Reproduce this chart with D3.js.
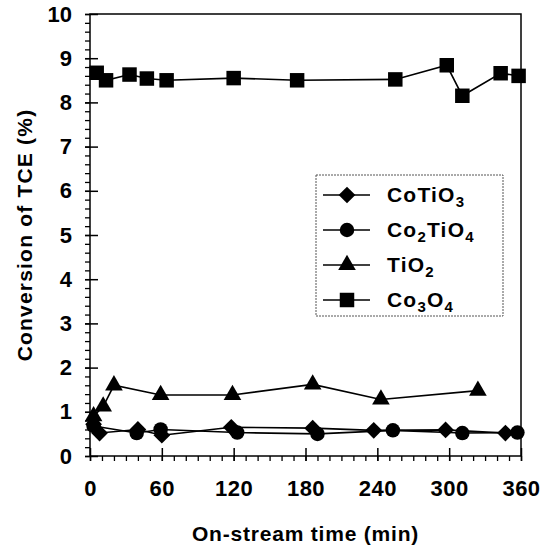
<!DOCTYPE html>
<html><head><meta charset="utf-8">
<script src="https://cdn.jsdelivr.net/npm/d3@7"></script>
<style>body{margin:0;background:#fff}svg{display:block}text{font-family:"Liberation Sans",Arial,sans-serif;font-weight:bold;fill:#000}</style>
</head><body>
<script>
const coTiO3T = [3, 8, 40, 60, 118, 186, 237, 297, 347];
const coTiO3Y = [0.72, 0.52, 0.6, 0.47, 0.65, 0.63, 0.58, 0.59, 0.52];
const co2TiO4T = [3, 39, 59, 123, 190, 253, 311, 357];
const co2TiO4Y = [0.68, 0.52, 0.6, 0.53, 0.5, 0.58, 0.52, 0.53];
const tiO2T = [3, 11, 20, 59, 119, 186, 243, 324];
const tiO2Y = [0.9, 1.12, 1.6, 1.38, 1.38, 1.62, 1.28, 1.48];
const co3O4T = [5.6, 13.4, 33, 47.5, 64, 120, 173, 255, 298, 311, 343, 358];
const co3O4Y = [8.67, 8.5, 8.63, 8.54, 8.5, 8.55, 8.5, 8.52, 8.84, 8.15, 8.66, 8.6];
const xTicks = [0, 60, 120, 180, 240, 300, 360];
const yTicks = [0, 1, 2, 3, 4, 5, 6, 7, 8, 9, 10];
const legendNames = [["CoTiO", "3"], ["Co", "2", "TiO", "4"], ["TiO", "2"], ["Co", "3", "O", "4"]];

const W = 550, H = 551;
const L = 90, R = 521, T = 14, B = 456;
const svg = d3.select("body").append("svg").attr("width", W).attr("height", H);
const x = d3.scaleLinear().domain([0, 360]).range([L, R]);
const y = d3.scaleLinear().domain([0, 10]).range([B, T]);

const symDiamond = {
  draw(ctx, size) {
    const r = Math.sqrt(size / 2);
    ctx.moveTo(0, -r); ctx.lineTo(r, 0); ctx.lineTo(0, r); ctx.lineTo(-r, 0); ctx.closePath();
  }
};

svg.append("rect").attr("x", L).attr("y", T).attr("width", R - L).attr("height", B - T)
  .attr("fill", "none").attr("stroke", "#000").attr("stroke-width", 1.5);

const fontFam = "Liberation Sans, Arial, sans-serif";
const xMinor = d3.range(0, 361, 10);
svg.append("g").attr("transform", `translate(0,${B})`)
  .call(d3.axisBottom(x).tickValues(xMinor).tickSize(5).tickFormat(""))
  .call(g => g.select(".domain").remove())
  .selectAll("line").attr("stroke-width", 1.3);
svg.append("g").attr("transform", `translate(0,${B})`)
  .call(d3.axisBottom(x).tickValues(xTicks).tickSizeInner(5).tickSizeOuter(0).tickPadding(19).tickFormat(d3.format("d")))
  .call(g => g.select(".domain").remove())
  .call(g => g.selectAll("line").attr("y1", -8).attr("stroke-width", 1.5))
  .call(g => g.selectAll("text").attr("font-size", 22).attr("font-weight", "bold").attr("fill", "#000")
    .attr("font-family", fontFam).attr("letter-spacing", 0.5));

const yMinor = d3.range(0, 50.5, 1).map(v => v / 5);
svg.append("g").attr("transform", `translate(${L},0)`)
  .call(d3.axisLeft(y).tickValues(yMinor).tickSize(5).tickFormat(""))
  .call(g => g.select(".domain").remove())
  .selectAll("line").attr("stroke-width", 1.3);
svg.append("g").attr("transform", `translate(${L},0)`)
  .call(d3.axisLeft(y).tickValues(yTicks).tickSizeInner(5).tickSizeOuter(0).tickPadding(13).tickFormat(d3.format("d")))
  .call(g => g.select(".domain").remove())
  .call(g => g.selectAll("line").attr("x1", 8).attr("stroke-width", 1.5))
  .call(g => g.selectAll("text").attr("font-size", 22).attr("font-weight", "bold").attr("fill", "#000")
    .attr("font-family", fontFam));

svg.append("text").attr("x", (L + R) / 2).attr("y", 541).attr("text-anchor", "middle")
  .attr("font-size", 21).attr("letter-spacing", 0.8).text("On-stream time (min)");
svg.append("text").attr("transform", `translate(32,${(T + B) / 2}) rotate(-90)`).attr("text-anchor", "middle")
  .attr("font-size", 21).attr("letter-spacing", 1.2).text("Conversion of TCE (%)");

const series = [
  {t: coTiO3T, v: coTiO3Y, sym: symDiamond, size: 140},
  {t: co2TiO4T, v: co2TiO4Y, sym: d3.symbolCircle, size: 165},
  {t: tiO2T, v: tiO2Y, sym: d3.symbolTriangle, size: 135},
  {t: co3O4T, v: co3O4Y, sym: d3.symbolSquare, size: 210}
];
const line = d3.line().x(d => x(d[0])).y(d => y(d[1]));
series.forEach(s => {
  const pts = s.t.map((t, i) => [t, s.v[i]]);
  svg.append("path").datum(pts).attr("d", line).attr("fill", "none").attr("stroke", "#000").attr("stroke-width", 1.6);
  svg.append("g").selectAll("path").data(pts).join("path")
    .attr("transform", d => `translate(${x(d[0])},${y(d[1])})`)
    .attr("d", d3.symbol().type(s.sym).size(s.size)).attr("fill", "#000");
});

const lg = svg.append("g");
lg.append("rect").attr("x", 316).attr("y", 175).attr("width", 187).attr("height", 141)
  .attr("fill", "#fff").attr("stroke", "#555").attr("stroke-width", 1).attr("stroke-dasharray", "2,1");
const rowY = [195, 230, 265, 300];
legendNames.forEach((parts, i) => {
  const yy = rowY[i];
  lg.append("line").attr("x1", 323).attr("x2", 370).attr("y1", yy).attr("y2", yy).attr("stroke", "#000").attr("stroke-width", 1.6);
  lg.append("path").attr("transform", `translate(347,${yy})`).attr("d", d3.symbol().type(series[i].sym).size(series[i].size)).attr("fill", "#000");
  const tx = lg.append("text").attr("x", 387).attr("y", yy + 7).attr("font-size", 21).attr("letter-spacing", 1.2);
  let prevSub = false;
  parts.forEach(p => {
    const isSub = /^\d$/.test(p);
    if (isSub) tx.append("tspan").attr("font-size", 15).attr("dy", 5).text(p);
    else tx.append("tspan").attr("dy", prevSub ? -5 : 0).text(p);
    prevSub = isSub;
  });
});
</script>
</body></html>
